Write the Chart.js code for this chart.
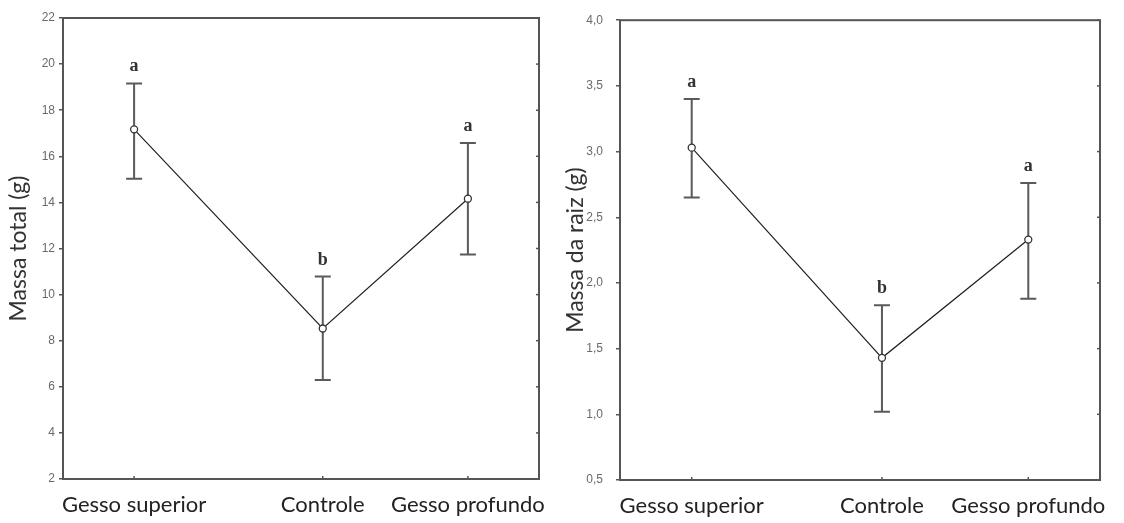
<!DOCTYPE html>
<html>
<head>
<meta charset="utf-8">
<script src="https://cdn.jsdelivr.net/npm/chart.js@4"></script>
<style>
  html, body { margin: 0; padding: 0; background: #fff; }
  body { width: 1124px; height: 523px; position: relative; overflow: hidden; }
  .box { position: absolute; top: 0; height: 523px; }
  #b1 { left: 0; width: 560px; }
  #b2 { left: 560px; width: 564px; }
</style>
</head>
<body>
<div class="box" id="b1"><canvas id="c1"></canvas></div>
<div class="box" id="b2"><canvas id="c2"></canvas></div>
<script>
// ---- data ----
const categories = ['Gesso superior', 'Controle', 'Gesso profundo'];
const categoryPositions = [0, 1.3, 2.3];

const totalMean  = [17.17, 8.53, 14.16];
const totalUpper = [19.16, 10.78, 16.58];
const totalLower = [15.03, 6.29, 11.74];
const totalLetters = ['a', 'b', 'a'];

const rootMean  = [3.03, 1.43, 2.33];
const rootUpper = [3.40, 1.83, 2.76];
const rootLower = [2.65, 1.02, 1.88];
const rootLetters = ['a', 'b', 'a'];

const totalTicks = { min: 2, max: 22, step: 2 };
const rootTicks = { min: 0.5, max: 4, step: 0.5 };

// ---- plugins ----
const framePlugin = {
  id: 'frame',
  afterDraw(chart) {
    const { ctx, chartArea: a } = chart;
    ctx.save();
    ctx.strokeStyle = '#555';
    ctx.lineWidth = 2;
    ctx.strokeRect(a.left, a.top, a.right - a.left, a.bottom - a.top);
    ctx.lineWidth = 1.5;
    const ys = chart.scales.y;
    ys.ticks.forEach(t => {
      const py = ys.getPixelForValue(t.value);
      ctx.beginPath(); ctx.moveTo(a.right, py); ctx.lineTo(a.right - 3, py); ctx.stroke();
    });
    const xs = chart.scales.x;
    xs.ticks.forEach(t => {
      const px = xs.getPixelForValue(t.value);
      ctx.beginPath(); ctx.moveTo(px, a.bottom); ctx.lineTo(px, a.bottom - 3); ctx.stroke();
    });
    ctx.restore();
  }
};

const errorBarPlugin = {
  id: 'errbars',
  beforeDatasetsDraw(chart) {
    const o = chart.options.plugins.errbars;
    const { ctx } = chart;
    const xs = chart.scales.x, ys = chart.scales.y;
    ctx.save();
    ctx.strokeStyle = '#5a5a5a';
    ctx.lineWidth = 2;
    o.upper.forEach((u, i) => {
      const px = xs.getPixelForValue(categoryPositions[i]);
      const pu = ys.getPixelForValue(u);
      const pl = ys.getPixelForValue(o.lower[i]);
      ctx.beginPath();
      ctx.moveTo(px, pu); ctx.lineTo(px, pl);
      ctx.moveTo(px - 8, pu); ctx.lineTo(px + 8, pu);
      ctx.moveTo(px - 8, pl); ctx.lineTo(px + 8, pl);
      ctx.stroke();
      ctx.fillStyle = '#333';
      ctx.font = 'bold 18px "Liberation Serif"';
      ctx.textAlign = 'center';
      ctx.textBaseline = 'alphabetic';
      ctx.fillText(o.letters[i], px, pu - 12);
    });
    ctx.restore();
  }
};

function makeChart(id, mean, upper, lower, letters, tk, title, opts) {
  const data = mean.map((v, i) => ({ x: categoryPositions[i], y: v }));
  return new Chart(document.getElementById(id), {
    type: 'scatter',
    data: {
      datasets: [{
        data,
        showLine: true,
        borderColor: '#222',
        borderWidth: 1.2,
        pointRadius: 3.5,
        pointHoverRadius: 3.5,
        pointBackgroundColor: '#fff',
        pointBorderColor: '#333',
        pointBorderWidth: 1.3
      }]
    },
    options: {
      responsive: true,
      maintainAspectRatio: false,
      animation: false,
      events: [],
      layout: { padding: { top: opts.top, right: opts.right, left: 0, bottom: 0 } },
      plugins: {
        legend: { display: false },
        tooltip: { enabled: false },
        errbars: { upper, lower, letters }
      },
      scales: {
        x: {
          type: 'linear',
          min: -0.49,
          max: 2.79,
          afterBuildTicks(s) { s.ticks = categoryPositions.map(v => ({ value: v })); },
          afterFit(s) { s.height = opts.xh; },
          border: { display: false },
          grid: { display: false },
          ticks: {
            autoSkip: false,
            maxRotation: 0,
            padding: 5,
            color: '#222',
            font: { family: 'Lato', size: 22 },
            callback(v) { const i = categoryPositions.indexOf(v); return i >= 0 ? categories[i] : ''; }
          }
        },
        y: {
          min: tk.min,
          max: tk.max,
          afterFit(s) { s.width = opts.yw; },
          border: { display: false },
          grid: { drawOnChartArea: false, drawTicks: true, tickLength: 4, color: '#555', lineWidth: 1.5 },
          ticks: {
            stepSize: tk.step,
            padding: opts.tickPad,
            color: '#6a6a6a',
            font: { family: '"Liberation Sans"', size: 12 },
            callback(v) { return opts.comma ? v.toFixed(1).replace('.', ',') : String(v); }
          },
          title: {
            display: true,
            text: title,
            color: '#333',
            font: { family: 'Lato', size: 23 },
            padding: { top: opts.titlePad, bottom: 0 }
          }
        }
      }
    },
    plugins: [errorBarPlugin, framePlugin]
  });
}

makeChart('c1', totalMean, totalUpper, totalLower, totalLetters, totalTicks, 'Massa total (g)',
  { top: 18, right: 21, xh: 44, yw: 63, tickPad: 4, titlePad: 5, comma: false });
makeChart('c2', rootMean, rootUpper, rootLower, rootLetters, rootTicks, 'Massa da raiz (g)',
  { top: 20, right: 24, xh: 43, yw: 60, tickPad: 13, titlePad: 2, comma: true });
</script>
</body>
</html>
